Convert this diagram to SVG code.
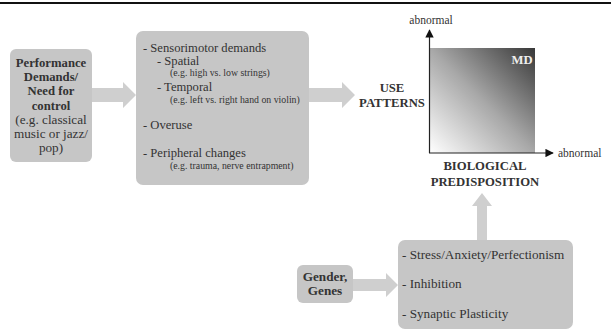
<svg xmlns="http://www.w3.org/2000/svg" width="611" height="329" viewBox="0 0 611 329">
<style>
.box{fill:#c6c6c6;}
.arr{fill:#cfcfcf;}
text{font-family:"Liberation Serif","Times New Roman",serif;fill:#333;}
.m{font-size:12.6px;}
.m3{font-size:13.2px;}
.b{font-size:12.7px;font-weight:bold;}
.s{font-size:9.8px;}
.ab{font-size:11.5px;}
.ax{stroke:#222;stroke-width:1.2;fill:none;}
</style>
<defs>
<linearGradient id="g" x1="0" y1="1" x2="1" y2="0">
<stop offset="0" stop-color="#ffffff"/>
<stop offset="0.5" stop-color="#a8a8a8"/>
<stop offset="1" stop-color="#383838"/>
</linearGradient>
<marker id="ah" viewBox="0 0 10 10" refX="9" refY="5" markerWidth="7" markerHeight="7" orient="auto">
<path d="M0,0 L10,5 L0,10 Z" fill="#111"/>
</marker>
</defs>
<line x1="0" y1="3" x2="611" y2="3" stroke="#111" stroke-width="2.2"/>
<g id="connectors">
<path class="arr" d="M92,88 H123 V82 L136,95 L123,108 V102 H92 Z"/>
<path class="arr" d="M308,88 H342 V82 L355,95 L342,108 V102 H308 Z"/>
<path class="arr" d="M477,240 V206 H472 L482,193 L492,206 H487 V240 Z"/>
<path class="arr" d="M353,279 H386 V273 L398,285 L386,297 V291 H353 Z"/>
</g>
<g id="n1">
<rect class="box" x="10" y="49" width="82" height="113" rx="6"/>
<text class="b" text-anchor="middle" x="51" y="67">Performance</text>
<text class="b" text-anchor="middle" x="51" y="81">Demands/</text>
<text class="b" text-anchor="middle" x="51" y="95">Need for</text>
<text class="b" text-anchor="middle" x="51" y="110">control</text>
<text class="m3" text-anchor="middle" x="51" y="124">(e.g. classical</text>
<text class="m3" text-anchor="middle" x="51" y="138">music or jazz/</text>
<text class="m3" text-anchor="middle" x="51" y="152">pop)</text>
</g>
<g id="n2">
<rect class="box" x="136" y="31" width="173" height="154" rx="7"/>
<text class="m" x="143" y="52">- Sensorimotor demands</text>
<text class="m" x="157" y="65">- Spatial</text>
<text class="s" x="170" y="76">(e.g. high vs. low strings)</text>
<text class="m" x="157" y="91">- Temporal</text>
<text class="s" x="170" y="103">(e.g. left vs. right hand on violin)</text>
<text class="m" x="143" y="129">- Overuse</text>
<text class="m" x="143" y="157">- Peripheral changes</text>
<text class="s" x="170" y="169">(e.g. trauma, nerve entrapment)</text>
</g>
<g id="n3">
<text class="b" text-anchor="middle" x="392" y="92">USE</text>
<text class="b" text-anchor="middle" x="392" y="107">PATTERNS</text>
</g>
<g id="chart">
<rect x="430" y="48" width="105" height="105" fill="url(#g)"/>
<line class="ax" x1="429.5" y1="153" x2="429.5" y2="30" marker-end="url(#ah)"/>
<line class="ax" x1="429" y1="153" x2="553" y2="153" marker-end="url(#ah)"/>
<text class="ab" text-anchor="middle" x="431" y="24">abnormal</text>
<text class="ab" x="558" y="157">abnormal</text>
<text class="b" style="fill:#eee" text-anchor="middle" x="522" y="64">MD</text>
</g>
<g id="n4">
<text class="b" text-anchor="middle" x="485" y="170">BIOLOGICAL</text>
<text class="b" text-anchor="middle" x="485" y="186">PREDISPOSITION</text>
</g>
<g id="n5">
<rect class="box" x="398" y="240" width="175" height="89" rx="7"/>
<text class="m3" x="402" y="259">- Stress/Anxiety/Perfectionism</text>
<text class="m3" x="402" y="288">- Inhibition</text>
<text class="m3" x="402" y="318">- Synaptic Plasticity</text>
</g>
<g id="n6">
<rect class="box" x="297" y="265" width="56" height="38" rx="6"/>
<text class="b" style="font-size:13.2px" text-anchor="middle" x="325" y="281">Gender,</text>
<text class="b" style="font-size:13.2px" text-anchor="middle" x="325" y="295">Genes</text>
</g>
</svg>
